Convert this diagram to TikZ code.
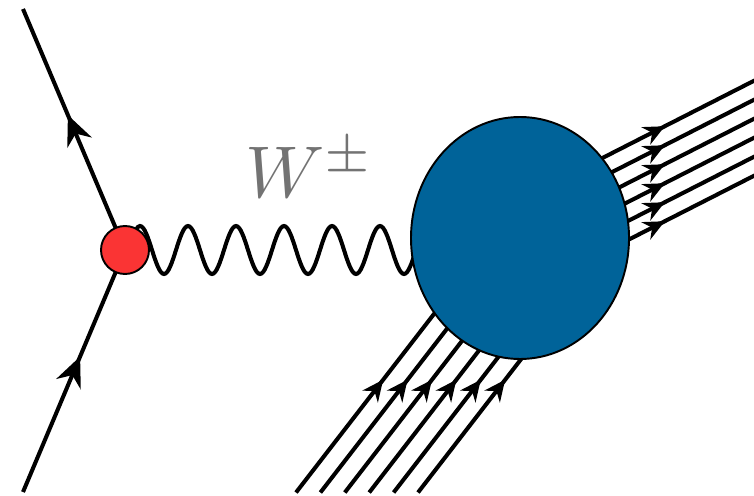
\documentclass[tikz,border=0pt]{standalone}
\usepackage{amsmath}
\usepackage{tikz}
\usetikzlibrary{shapes.geometric,decorations.pathmorphing,decorations.markings,arrows.meta}
\definecolor{blobblue}{RGB}{0,99,153}
\definecolor{vtxred}{RGB}{250,52,52}
\pgfdeclarelayer{bg}
\pgfsetlayers{bg,main}

\begin{document}
\begin{tikzpicture}[>=Stealth,
  fermion/.style={line width=2.3pt, postaction={decorate},
    decoration={markings, mark=at position #1 with {\arrow{Stealth[length=12pt,width=11pt]}}}},
  lepton/.style={line width=2.3pt, postaction={decorate},
    decoration={markings, mark=at position #1 with {\arrow{Stealth[length=17pt,width=15pt]}}}},
  boson/.style={line width=2.3pt, decorate,
    decoration={snake, segment length=0.96cm, amplitude=0.48cm}},
  blob/.style={ellipse, draw, line width=1.1pt, fill=blobblue,
    minimum width=4.36cm, minimum height=4.84cm, inner sep=0pt},
  dot/.style={circle, draw, line width=1.1pt, fill=vtxred,
    minimum size=0.96cm, inner sep=0pt}]
  \useasboundingbox (0,0) rectangle (15.08,9.9);
  \clip (0,0) rectangle (15.08,9.9);
  \node (vtx) [dot] at (2.5,4.9) {};
  \node (blob) [blob] at (10.4,5.14) {};
  \node (wlab) [text=black!55, scale=4.17] at (6.2,6.54) {$W^{\pm}$};
  \coordinate (fin) at (0.46,0.06);
  \coordinate (fout) at (0.46,9.72);
  \coordinate (wend) at (blob.center |- vtx.center);
  \begin{pgfonlayer}{bg}
    \draw[lepton=0.56] (fin) -- (vtx.center);
    \draw[lepton=0.56] (vtx.center) -- (fout);
    \draw[boson] (vtx.center) -- (wend);
    % partons coming in from below
    \foreach \i in {0,...,5} {
      \coordinate (p\i) at ({5.92+0.488*\i},0.05);
      \draw[fermion=2.85cm] (p\i) -- ([shift={(52.3:5)}]p\i);
    }
    % jets going out
    \foreach \i in {0,...,5} {
      \coordinate (j\i) at (10.4,{5.9-0.38*\i});
      \draw[fermion=3.25cm] (j\i) -- ([shift={(27:7)}]j\i);
    }
  \end{pgfonlayer}
\end{tikzpicture}
\end{document}
